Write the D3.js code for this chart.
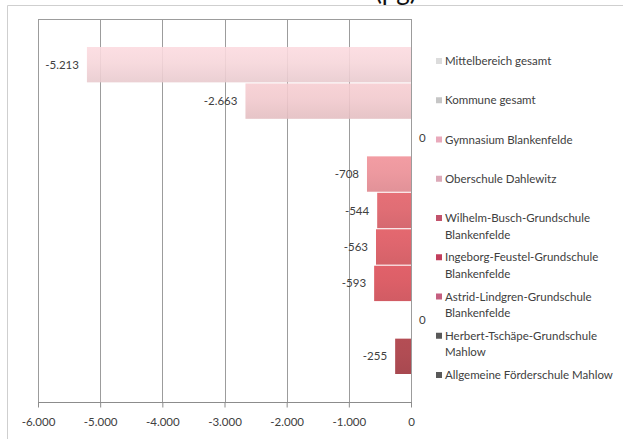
<!DOCTYPE html>
<html>
<head>
<meta charset="utf-8">
<script src="https://cdn.jsdelivr.net/npm/d3@7"></script>
<style>
  html, body { margin: 0; padding: 0; background: #ffffff; }
  svg { display: block; font-family: Lato, "Open Sans", sans-serif; }
</style>
</head>
<body>
<svg id="chart" width="623" height="439"></svg>
<script>
// Schülerzahlen-Veränderung je Einrichtung
const seriesNames = [
  "Mittelbereich gesamt",
  "Kommune gesamt",
  "Gymnasium Blankenfelde",
  "Oberschule Dahlewitz",
  "Wilhelm-Busch-Grundschule Blankenfelde",
  "Ingeborg-Feustel-Grundschule Blankenfelde",
  "Astrid-Lindgren-Grundschule Blankenfelde",
  "Herbert-Tschäpe-Grundschule Mahlow",
  "Allgemeine Förderschule Mahlow"
];
const legendLines = [
  ["Mittelbereich gesamt"],
  ["Kommune gesamt"],
  ["Gymnasium Blankenfelde"],
  ["Oberschule Dahlewitz"],
  ["Wilhelm-Busch-Grundschule", "Blankenfelde"],
  ["Ingeborg-Feustel-Grundschule", "Blankenfelde"],
  ["Astrid-Lindgren-Grundschule", "Blankenfelde"],
  ["Herbert-Tschäpe-Grundschule", "Mahlow"],
  ["Allgemeine Förderschule Mahlow"]
];
const values = [-5213, -2663, 0, -708, -544, -563, -593, 0, -255];
const barColors = ["#efd0d4", "#eac3c7", "#e6a4ad", "#e48a91", "#d75b63", "#d5535b", "#d24c55", "#7a3038", "#a3373f"];
const legendColors = ["#dcdcdc", "#c6c6c6", "#e9a9bb", "#dca9b8", "#c2536c", "#c23e5c", "#c55f80", "#595959", "#595959"];
const xTicks = [-6000, -5000, -4000, -3000, -2000, -1000, 0];
const titleText = "(pg)";

const svg = d3.select("#chart");
const plot = { left: 38, right: 411, top: 19, bottom: 402 };
const clusterPad = 28;

const de = d3.formatLocale({ decimal: ",", thousands: ".", grouping: [3], currency: ["", " €"], minus: "-" });
const fmt = de.format(",d");

const x = d3.scaleLinear().domain([-6000, 0]).range([plot.left, plot.right]);
const y = d3.scaleBand().domain(seriesNames)
  .range([plot.top + clusterPad, plot.bottom - clusterPad])
  .paddingInner(0.03);

// outer chart frame
svg.append("path")
  .attr("d", "M7.5,439 L7.5,5.5 L623,5.5")
  .attr("fill", "none").attr("stroke", "#cfcfcf").attr("stroke-width", 1);

// title (runs off the top edge)
svg.append("text")
  .attr("x", 375).attr("y", 0)
  .attr("font-size", 26).attr("fill", "#111")
  .text(titleText);

// soft vertical shading for bars
const defs = svg.append("defs");
barColors.forEach((c, i) => {
  const g = defs.append("linearGradient").attr("id", "bar" + i)
    .attr("x1", 0).attr("y1", 0).attr("x2", 0).attr("y2", 1);
  const base = d3.color(c);
  g.append("stop").attr("offset", "0%").attr("stop-color", base.brighter(0.15));
  g.append("stop").attr("offset", "45%").attr("stop-color", base.brighter(0.08));
  g.append("stop").attr("offset", "100%").attr("stop-color", base.darker(0.08));
});

// vertical gridlines
svg.append("g").selectAll("line").data(xTicks).join("line")
  .attr("x1", d => Math.round(x(d)) + 0.5).attr("x2", d => Math.round(x(d)) + 0.5)
  .attr("y1", plot.top).attr("y2", plot.bottom)
  .attr("stroke", "#9c9c9c").attr("stroke-width", 1);

// top border of plot area
svg.append("line")
  .attr("x1", plot.left).attr("x2", plot.right + 1)
  .attr("y1", plot.top + 0.5).attr("y2", plot.top + 0.5)
  .attr("stroke", "#9c9c9c");

// bars
svg.append("g").selectAll("rect").data(values).join("rect")
  .attr("x", d => x(Math.min(d, 0)))
  .attr("width", d => Math.abs(x(d) - x(0)))
  .attr("y", (d, i) => y(seriesNames[i]))
  .attr("height", y.bandwidth())
  .attr("fill", (d, i) => `url(#bar${i})`)
  .attr("fill-opacity", 0.9);

// bottom axis
const axis = d3.axisBottom(x).tickValues(xTicks).tickFormat(fmt).tickSize(5).tickPadding(10);
const ax = svg.append("g").attr("transform", `translate(0,${plot.bottom + 0.5})`).call(axis);
ax.select(".domain").attr("stroke", "#8c8c8c").attr("d", `M${plot.left},0H${plot.right + 1}`);
ax.selectAll(".tick line").attr("stroke", "#8c8c8c");
ax.selectAll(".tick text").attr("fill", "#404040").attr("font-size", 11.5)
  .attr("font-family", "Lato, sans-serif");

// value labels
svg.append("g").selectAll("text").data(values).join("text")
  .attr("x", d => d === 0 ? x(0) + 8 : x(d) - 8)
  .attr("y", (d, i) => y(seriesNames[i]) + y.bandwidth() / 2)
  .attr("dy", "0.35em")
  .attr("text-anchor", d => d === 0 ? "start" : "end")
  .attr("font-size", 11.5).attr("fill", "#404040")
  .text(d => fmt(d));

// legend
const ly = d3.scalePoint().domain(seriesNames).range([61, 375]);
const leg = svg.append("g").selectAll("g").data(seriesNames).join("g")
  .attr("transform", d => `translate(436,${ly(d)})`);
leg.append("rect")
  .attr("x", 0).attr("y", -3).attr("width", 6).attr("height", 6)
  .attr("fill", (d, i) => legendColors[i]);
leg.each(function (d, i) {
  const t = d3.select(this).append("text")
    .attr("x", 9).attr("y", 0).attr("dy", "0.35em")
    .attr("font-size", 11.5).attr("fill", "#404040");
  legendLines[i].forEach((line, j) => {
    t.append("tspan").attr("x", 9).attr("dy", j === 0 ? "0.35em" : 16.5).text(line);
  });
});
</script>
</body>
</html>
